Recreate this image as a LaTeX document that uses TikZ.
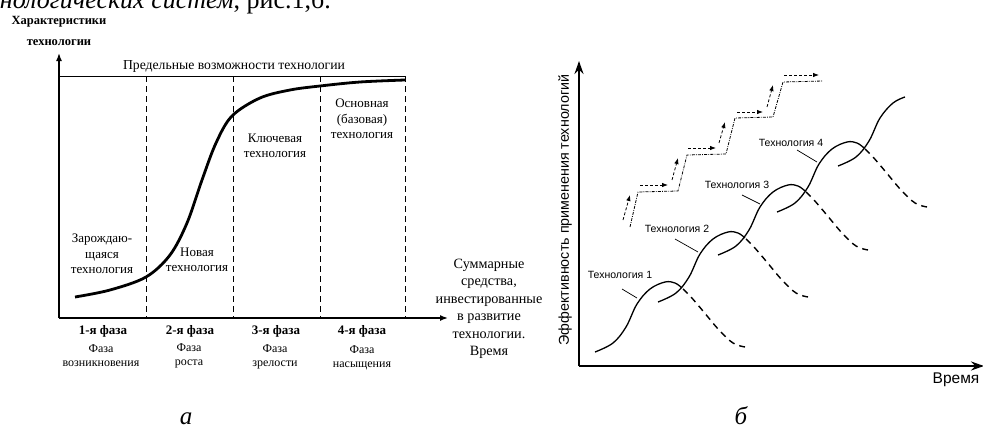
\documentclass[tikz,border=0pt]{standalone}
\usepackage{fontspec}
\setmainfont{Liberation Serif}
\newfontfamily\sansf{Liberation Sans}
\usetikzlibrary{arrows.meta}
\begin{document}
\begin{tikzpicture}[x=1pt,y=-1pt,
  txt/.style={font=\fontsize{13}{15.5}\selectfont, align=center, inner sep=0pt},
  hdr/.style={font=\bfseries\fontsize{12.5}{21}\selectfont, align=center, inner sep=0pt},
  phase/.style={font=\bfseries\fontsize{13}{14}\selectfont, inner sep=0pt},
  phsub/.style={font=\fontsize{12}{14}\selectfont, align=center, inner sep=0pt},
  summ/.style={font=\fontsize{14.2}{17.5}\selectfont, align=center, inner sep=0pt},
  techlbl/.style={font=\sansf\fontsize{10.5}{12}\selectfont, inner sep=0pt},
  capt/.style={font=\itshape\fontsize{25}{27}\selectfont, inner sep=0pt, anchor=base},
  axa/.style={line width=1.5pt, -{Latex[length=8pt,width=6pt]}},
  axb/.style={line width=2.8pt, -{Stealth[length=13pt,width=9pt]}},
  vdash/.style={line width=0.9pt, dash pattern=on 6pt off 4pt},
  solidc/.style={line width=1.3pt},
  dashc/.style={line width=1.4pt, dash pattern=on 6.5pt off 5pt},
  stair/.style={line width=0.8pt, dash pattern=on 3pt off 1.2pt on 0.8pt off 1.2pt},
  smallarr/.style={line width=0.8pt, dash pattern=on 3pt off 2pt, -{Latex[length=6pt,width=4.5pt]}},
  leader/.style={line width=0.7pt}
]
\useasboundingbox (0,0) rectangle (983,431);
\clip (0,0) rectangle (983,431);

% cut-off caption line at the very top
\node[font=\fontsize{26}{28}\selectfont, anchor=base east, inner sep=0pt] (topline) at (331,9) {\textit{технологических систем}, рис.1,б.};

% ===== Figure a =====
\coordinate (aO) at (59,318);
\coordinate (aY) at (59,53);
\coordinate (aX) at (448,318);
\draw[axa] (aO) -- (aY);
\draw[axa] (aO) -- (aX);

\coordinate (lim0) at (59,76);
\coordinate (lim1) at (405,76);
\draw[line width=0.9pt] (lim0) -- (lim1);
\node[txt, font=\fontsize{13.7}{15}\selectfont] (limtxt) at (234,66) {Предельные возможности технологии};

\foreach \xx/\nm in {146/d1,233/d2,320/d3,405/d4}{
  \coordinate (\nm t) at (\xx,76);
  \coordinate (\nm b) at (\xx,318);
  \draw[vdash] (\nm t) -- (\nm b);
}

\draw[line width=2.8pt] plot[smooth, tension=0.55] coordinates {(75,297) (110,290) (146,277) (170,255) (187,223) (202,180) (216,143) (232,116) (260,98) (290,90) (320,86) (360,82) (405,80)};

\node[hdr] (hdrtxt) at (59,31) {Характеристики\\технологии};
\node[txt] (zar) at (102,254) {Зарождаю-\\щаяся\\технология};
\node[txt] (nov) at (197,260) {Новая\\технология};
\node[txt] (klu) at (275,146) {Ключевая\\технология};
\node[txt] (osn) at (362,119) {Основная\\(базовая)\\технология};
\node[summ] (summtxt) at (489,309) {Суммарные\\средства,\\инвестированные\\в развитие\\технологии.\\Время};

\node[phase] (p1) at (103,331) {1-я фаза};
\node[phase] (p2) at (190,331) {2-я фаза};
\node[phase] (p3) at (276,331) {3-я фаза};
\node[phase] (p4) at (362,331) {4-я фаза};
\node[phsub] (s1) at (101,356) {Фаза\\возникновения};
\node[phsub] (s2) at (189,356) {Фаза\\роста};
\node[phsub] (s3) at (275,357) {Фаза\\зрелости};
\node[phsub] (s4) at (362,358) {Фаза\\насыщения};

\node[capt] (capa) at (186,424) {а};

% ===== Figure b =====
\coordinate (bO) at (579,366);
\coordinate (bY) at (579,61);
\coordinate (bX) at (984,366);
\draw[axb] (bO) -- (bY);
\draw[axb] (bO) -- (bX);

\node[font=\sansf\fontsize{14.3}{15}\selectfont, rotate=90, inner sep=0pt] (ylab) at (565,210) {Эффективность применения технологий};
\node[font=\sansf\fontsize{15.5}{16}\selectfont, inner sep=0pt] (vrem) at (956,380) {Время};
\node[capt] (capb) at (741,424) {б};

% technology curves
\foreach \sx/\sy in {595/352, 658/302, 718/255, 777/212}{
  \begin{scope}[shift={(\sx,\sy)}]
    \draw[solidc] plot[smooth, tension=0.6] coordinates {(0,0) (18,-9) (31,-25) (42,-48) (55,-63) (70,-70) (80,-69) (87,-64)};
    \draw[dashc] plot[smooth, tension=0.6] coordinates {(88,-63) (96,-55) (108,-41) (124,-22) (138,-9) (150,-5)};
  \end{scope}
}
\begin{scope}[shift={(838,166)}]
  \draw[solidc] plot[smooth, tension=0.6] coordinates {(0,0) (18,-9) (31,-25) (42,-48) (55,-63) (67,-69)};
\end{scope}

\node[techlbl] (t1) at (620,275) {Технология 1};
\node[techlbl] (t2) at (677,229) {Технология 2};
\node[techlbl] (t3) at (737,185) {Технология 3};
\node[techlbl] (t4) at (791,143) {Технология 4};
\coordinate (t1a) at (622,289); \coordinate (t1b) at (637,298);
\coordinate (t2a) at (675,239); \coordinate (t2b) at (698,252);
\coordinate (t3a) at (742,195); \coordinate (t3b) at (760,204);
\coordinate (t4a) at (797,150); \coordinate (t4b) at (817,162);
\draw[leader] (t1a) -- (t1b);
\draw[leader] (t2a) -- (t2b);
\draw[leader] (t3a) -- (t3b);
\draw[leader] (t4a) -- (t4b);

% staircase
\draw[stair] (630,227) -- (638,192) -- (678,191) -- (687,155) -- (726,154) -- (735,118) -- (773,117) -- (783,82) -- (823,81);

% small arrows
\foreach \ax/\ay/\bx/\by in {623/220/630/195, 640/185/668/185, 672/180/678/158, 688/148/716/148, 719/143/725/122, 737/112/763/112, 767/107/773/85, 784/75/819/75}{
  \draw[smallarr] (\ax,\ay) -- (\bx,\by);
}
\end{tikzpicture}
\end{document}
